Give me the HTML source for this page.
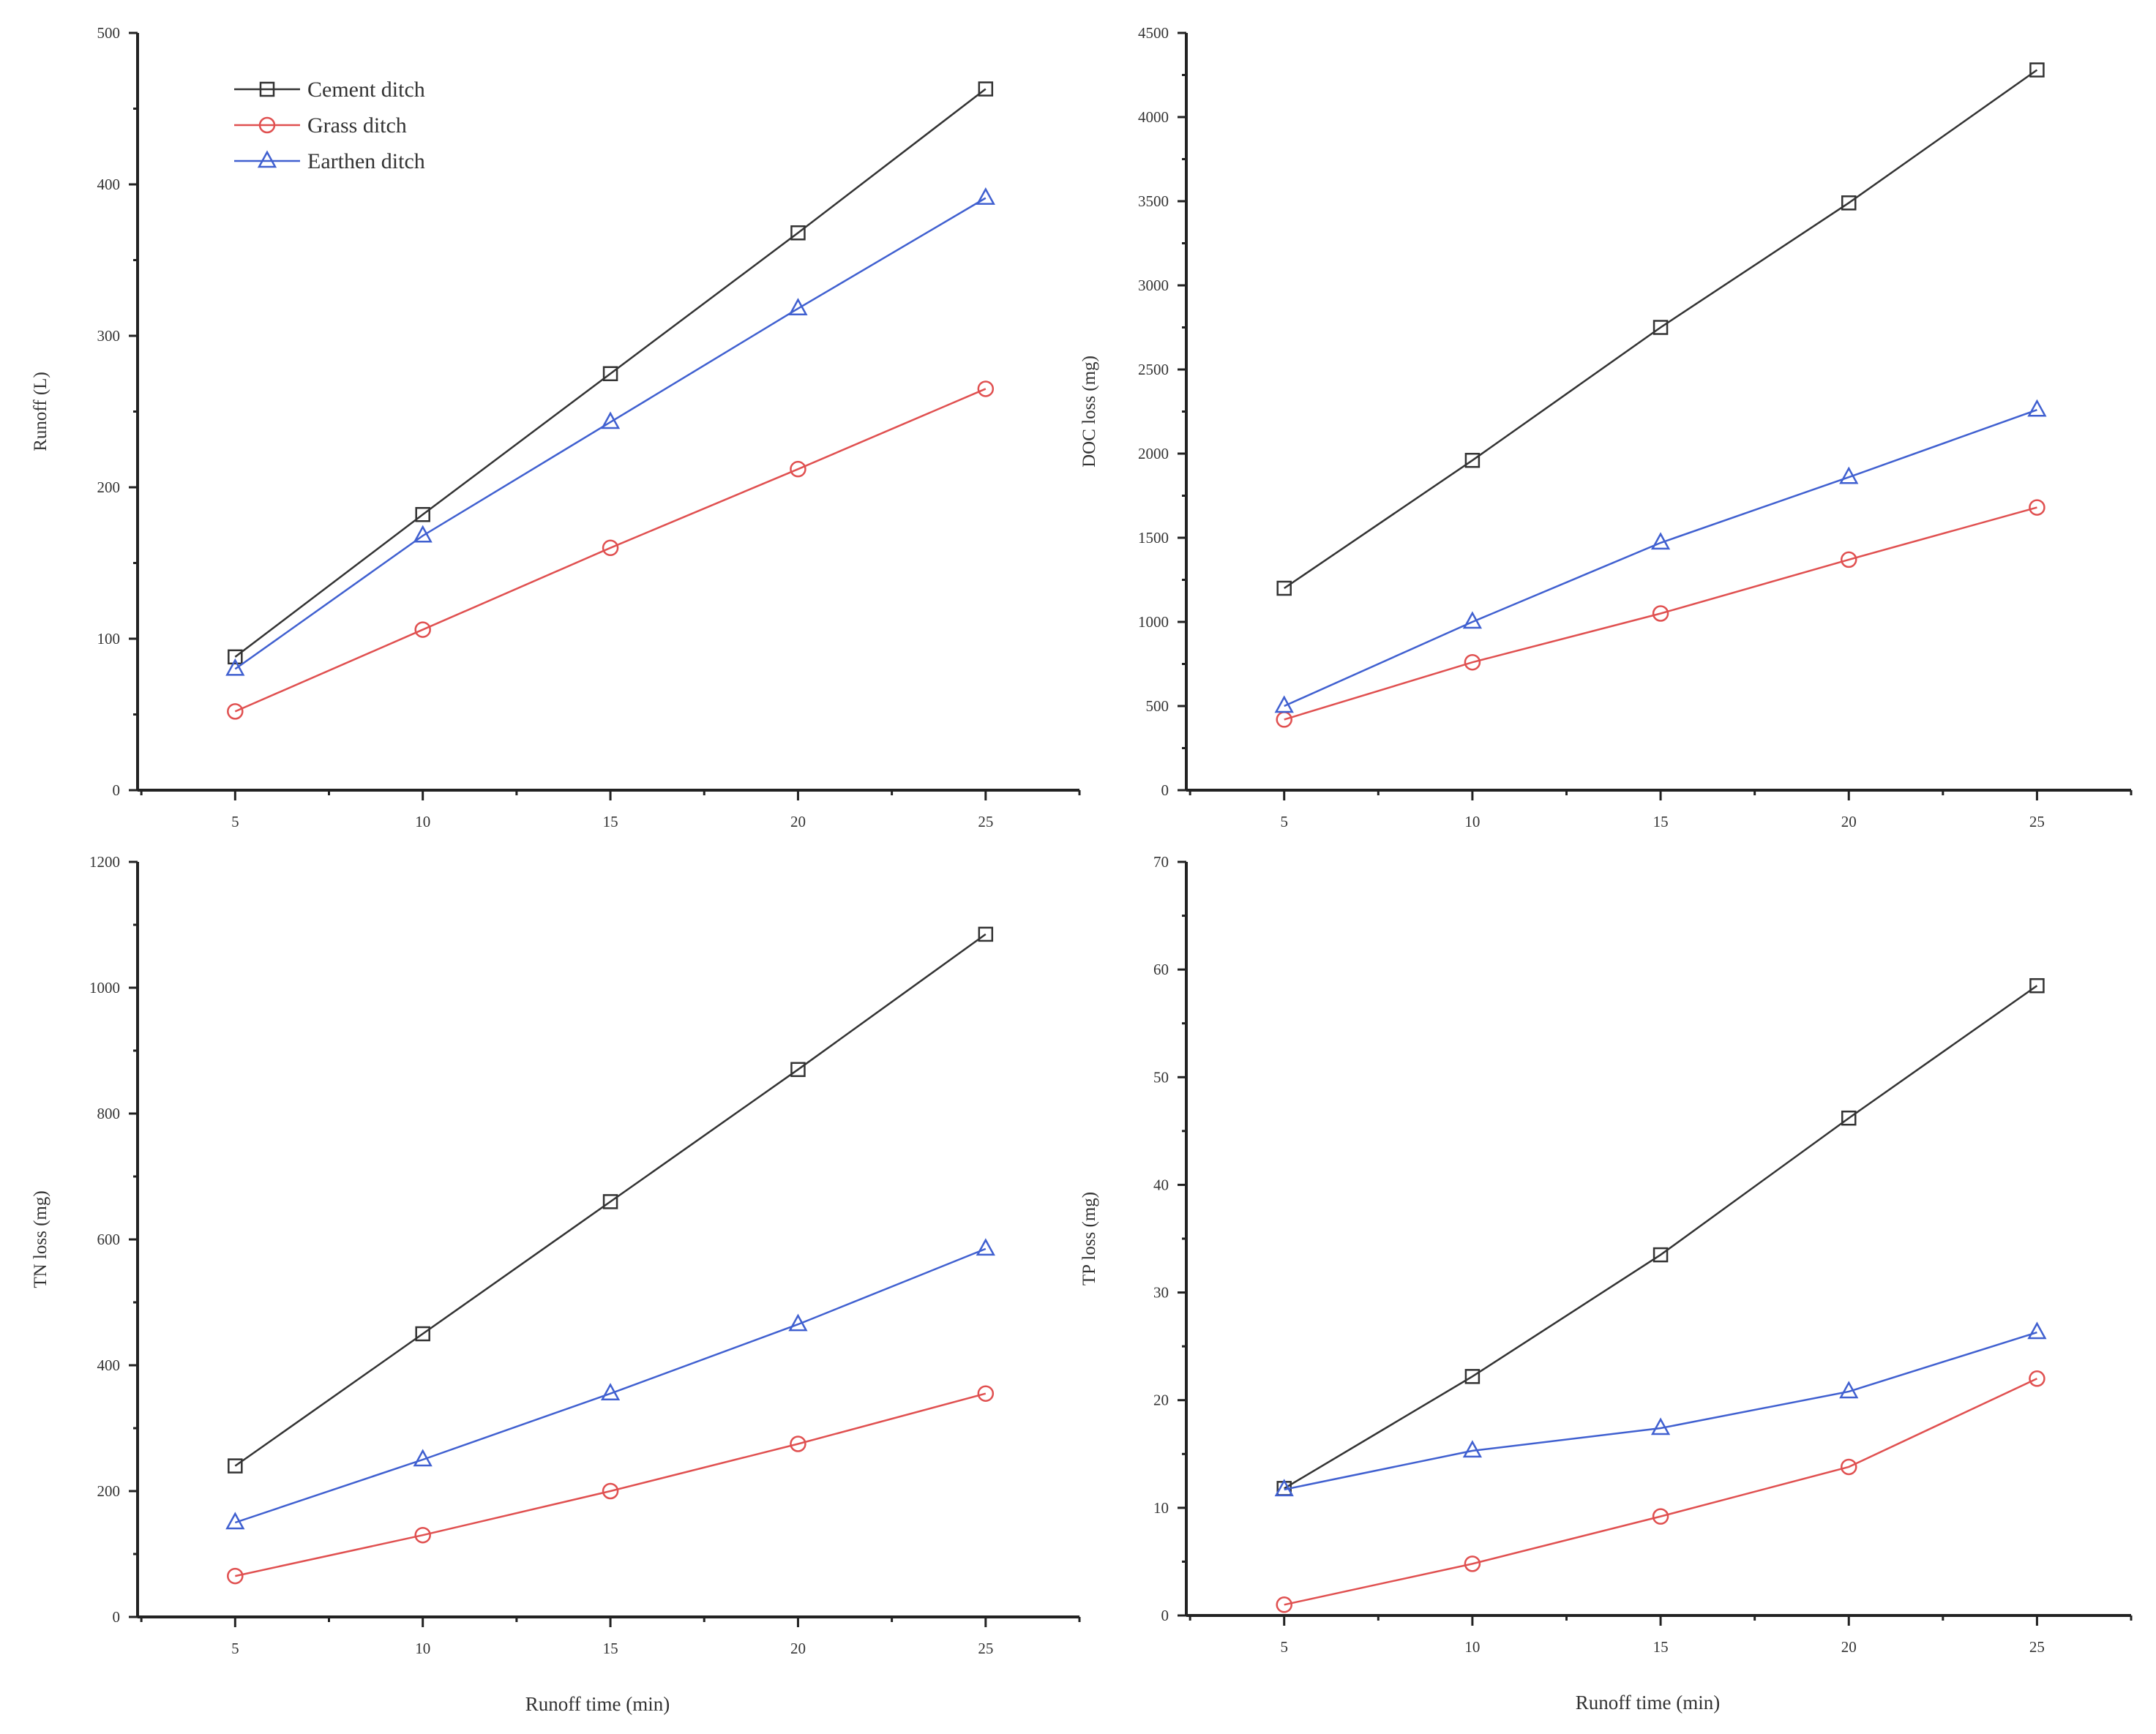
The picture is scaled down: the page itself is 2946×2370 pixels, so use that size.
<!DOCTYPE html>
<html><head><meta charset="utf-8"><style>
body{margin:0;background:#fff}
svg{display:block;font-family:"Liberation Serif",serif}
</style></head><body>
<svg id="c" width="2946" height="2370"></svg>
<script>
const xCats=[5,10,15,20,25];
const runoffCement=[88,182,275,368,463];
const runoffGrass=[52,106,160,212,265];
const runoffEarthen=[80,168,243,318,391];
const docCement=[1200,1960,2750,3490,4280];
const docGrass=[420,760,1050,1370,1680];
const docEarthen=[500,1000,1470,1860,2260];
const tnCement=[240,450,660,870,1085];
const tnGrass=[65,130,200,275,355];
const tnEarthen=[150,250,355,465,585];
const tpCement=[11.8,22.2,33.5,46.2,58.5];
const tpGrass=[1,4.8,9.2,13.8,22];
const tpEarthen=[11.7,15.3,17.4,20.8,26.3];
const seriesNames=["Cement ditch","Grass ditch","Earthen ditch"];
const colors=["#333","#e05050","#4060d0"];
const NS="http://www.w3.org/2000/svg";
const svg=document.getElementById('c');
function mk(t,a,p){const e=document.createElementNS(NS,t);for(const k in a)e.setAttribute(k,a[k]);(p||svg).appendChild(e);return e;}
function marker(g,i,x,y){
  if(i===0) return mk('rect',{x:x-9,y:y-9,width:18,height:18,fill:'none',stroke:colors[0],'stroke-width':2.5},g);
  if(i===1) return mk('circle',{cx:x,cy:y,r:10,fill:'none',stroke:colors[1],'stroke-width':2.5},g);
  return mk('polygon',{points:`${x},${y-12} ${x-11},${y+8} ${x+11},${y+8}`,fill:'none',stroke:colors[2],'stroke-width':2.5},g);
}
function panel(name,L,R,T,B,ymax,ystep,series,ytitle,xtitle,legend){
  const g=mk('g',{});
  
  
  const xmin=2.4,xmax=27.5;
  const X=v=>L+(v-xmin)/(xmax-xmin)*(R-L);
  const Y=v=>B-v/ymax*(B-T);
  mk('line',{x1:L,y1:B,x2:R,y2:B,stroke:'#222','stroke-width':4},g);
  mk('line',{x1:L,y1:B,x2:L,y2:T,stroke:'#222','stroke-width':4},g);
  for(let v=0;v<=ymax+1e-9;v+=ystep){
    mk('line',{x1:L-12,y1:Y(v),x2:L,y2:Y(v),stroke:'#222','stroke-width':3},g);
    if(v+ystep/2<=ymax) mk('line',{x1:L-6,y1:Y(v+ystep/2),x2:L,y2:Y(v+ystep/2),stroke:'#222','stroke-width':3},g);
    const t=mk('text',{x:L-24,y:Y(v)+7,'text-anchor':'end','font-size':21,fill:'#333'},g);t.textContent=v;
    
  }
  for(let v=2.5;v<=27.5;v+=2.5){
    const major=v%5===0;
    mk('line',{x1:X(v),y1:B,x2:X(v),y2:B+(major?14:7),stroke:'#222','stroke-width':3},g);
  }
  xCats.forEach(v=>{const t=mk('text',{x:X(v),y:B+50,'text-anchor':'middle','font-size':21,fill:'#333'},g);t.textContent=v;
    });
  const yt=mk('text',{x:0,y:0,'text-anchor':'middle','font-size':25,fill:'#333',transform:`translate(${L-125},${(T+B)/2}) rotate(-90)`},g);
  yt.textContent=ytitle;
  
  if(xtitle){const xt=mk('text',{x:(L+R)/2-15,y:B+128,'text-anchor':'middle','font-size':27,fill:'#333'},g);xt.textContent=xtitle;
    }
  series.forEach((s,i)=>{
    const pts=s.map((v,j)=>X(xCats[j])+','+Y(v)).join(' ');
    const pl=mk('polyline',{points:pts,fill:'none',stroke:colors[i],'stroke-width':2.5},g);
    
    s.forEach((v,j)=>{const m=marker(g,i,X(xCats[j]),Y(v));
      });
  });
  if(legend){
    seriesNames.forEach((n,i)=>{
      const y=122+i*49;
      mk('line',{x1:320,y1:y,x2:410,y2:y,stroke:colors[i],'stroke-width':2.5},g);
      marker(g,i,365,y);
      const t=mk('text',{x:420,y:y+10,'font-size':30,fill:'#333'},g);t.textContent=n;
      
    });
  }
}
panel('runoff-panel',188,1475,45,1080,500,100,[runoffCement,runoffGrass,runoffEarthen],'Runoff  (L)',null,true);
panel('doc-panel',1621,2912,45,1080,4500,500,[docCement,docGrass,docEarthen],'DOC loss (mg)',null,false);
panel('tn-panel',188,1475,1178,2210,1200,200,[tnCement,tnGrass,tnEarthen],'TN loss (mg)','Runoff time (min)',false);
panel('tp-panel',1621,2912,1178,2208,70,10,[tpCement,tpGrass,tpEarthen],'TP loss (mg)','Runoff time (min)',false);
</script>
</body></html>
